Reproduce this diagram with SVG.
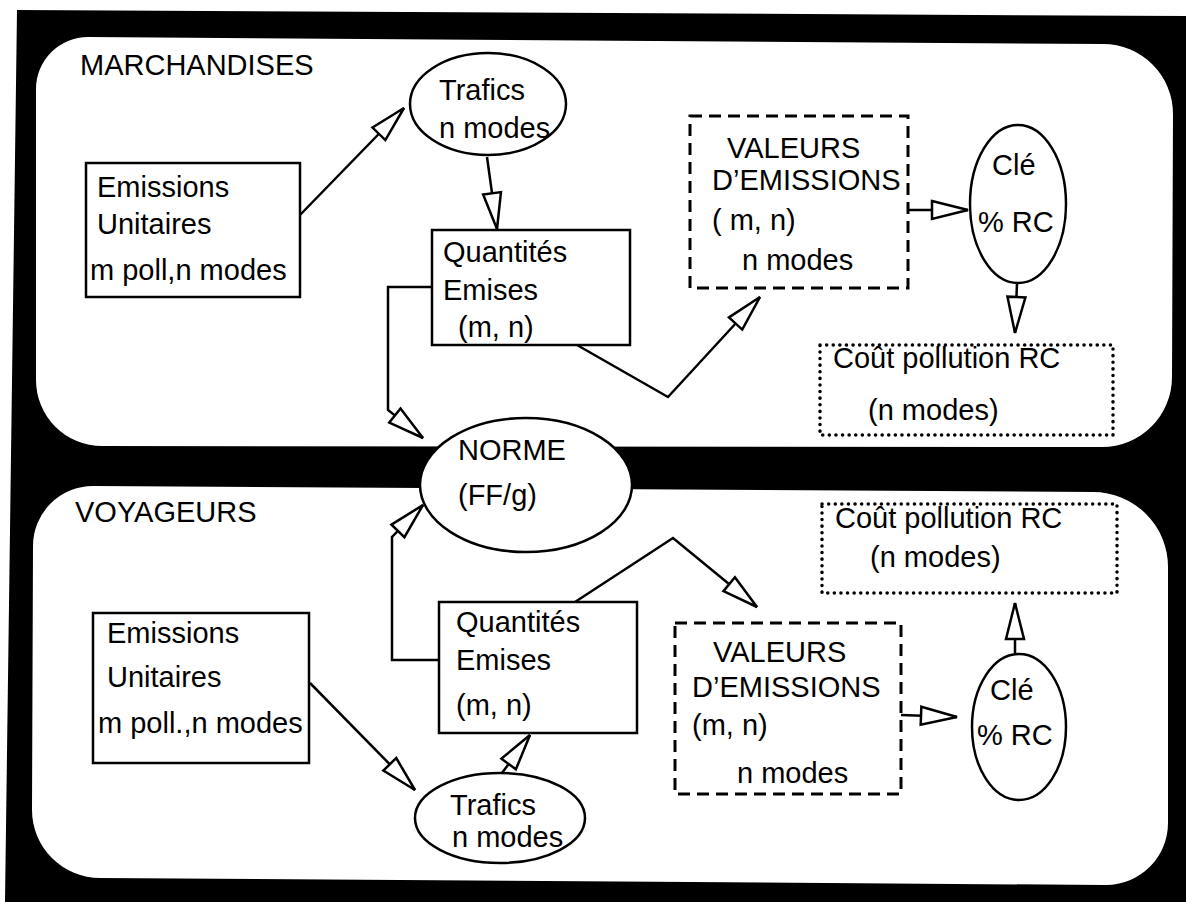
<svg xmlns="http://www.w3.org/2000/svg" width="1186" height="902" viewBox="0 0 1186 902">
<style>
text{font-family:"Liberation Sans",Arial,Helvetica,sans-serif;font-size:29px;fill:#000}
.t{font-size:29px}
.box{fill:#fff;stroke:#000;stroke-width:2.5}
.dash{fill:#fff;stroke:#000;stroke-width:3;stroke-dasharray:12 7}
.dot{fill:#fff;stroke:#000;stroke-width:3.5;stroke-dasharray:0.1 6.5;stroke-linecap:round}
.conn path{fill:none;stroke:#000;stroke-width:2.5;marker-end:url(#ah)}
.conn path.nm{marker-end:none}
</style>
<defs>
<marker id="ah" viewBox="0 0 40 22" refX="38" refY="11" markerWidth="40" markerHeight="22" markerUnits="userSpaceOnUse" orient="auto">
<path d="M2,2 L38,11 L2,20 Z" fill="#fff" stroke="#000" stroke-width="2.5"/>
</marker>
</defs>
<rect width="1186" height="902" fill="#fff"/>
<polygon points="17,10 1186,16 1186,902 5,902" fill="#000"/>
<g id="panel-marchandises">
<path d="M88,37 L1103,44 A70,70 0 0 1 1173,114 L1172,377 A70,70 0 0 1 1102,447 L102,446 A66,66 0 0 1 36,380 L36,89 A52,52 0 0 1 88,37 Z" fill="#fff"/>
<text x="80" y="75">MARCHANDISES</text>
</g>
<g id="panel-voyageurs">
<path d="M93,486 L1093,492 A75,75 0 0 1 1168,567 L1168,823 A62,62 0 0 1 1106,885 L100,878 A68,68 0 0 1 32,810 L33,546 A60,60 0 0 1 93,486 Z" fill="#fff"/>
<text x="75" y="522">VOYAGEURS</text>
</g>
<g class="conn" id="connectors">
<path d="M300,215 L404,108"/>
<path d="M487,157 L497,229"/>
<path d="M432,287 L388,287 L388,410 L423,438"/>
<path d="M577,345 L668,397 L760,297"/>
<path d="M908,210 L968,210"/>
<path d="M1017,283 L1015,333"/>
<path d="M310,683 L415,790"/>
<path d="M502,773 L530,735"/>
<path d="M439,660 L392,660 L392,537 L423,505"/>
<path d="M575,602 L673,538 L757,607"/>
<path d="M901,715 L957,717"/>
<path d="M1015,653 L1015,603"/>
</g>
<g id="m-emissions">
<rect class="box" x="86" y="163" width="214" height="134"/>
<text x="97" y="197">Emissions</text>
<text x="97" y="234">Unitaires</text>
<text x="90" y="280">m poll,n modes</text>
</g>
<g id="m-trafics">
<ellipse class="box" cx="488" cy="104" rx="78" ry="51"/>
<text x="439" y="100">Trafics</text>
<text x="439" y="138">n modes</text>
</g>
<g id="m-quantites">
<rect class="box" x="432" y="230" width="198" height="115"/>
<text x="443" y="262">Quantités</text>
<text x="443" y="300">Emises</text>
<text x="458" y="337">(m, n)</text>
</g>
<g id="m-valeurs">
<rect class="dash" x="690" y="116" width="218" height="172"/>
<text x="727" y="158">VALEURS</text>
<text x="712" y="190">D’EMISSIONS</text>
<text x="712" y="230">( m, n)</text>
<text x="742" y="270">n modes</text>
</g>
<g id="m-cle">
<ellipse class="box" cx="1018" cy="204" rx="48" ry="79"/>
<text x="992" y="175">Clé</text>
<text x="978" y="232">% RC</text>
</g>
<g id="m-cout">
<rect class="dot" x="820" y="345" width="293" height="90"/>
<text x="833" y="368">Coût pollution RC</text>
<text x="868" y="420">(n modes)</text>
</g>
<g id="norme">
<ellipse class="box" cx="526" cy="485" rx="106" ry="67"/>
<text x="458" y="460">NORME</text>
<text x="458" y="505">(FF/g)</text>
</g>
<g id="v-emissions">
<rect class="box" x="93" y="613" width="216" height="150"/>
<text x="107" y="643">Emissions</text>
<text x="107" y="687">Unitaires</text>
<text x="98" y="733">m poll.,n modes</text>
</g>
<g id="v-trafics">
<ellipse class="box" cx="500" cy="818" rx="85" ry="45"/>
<text x="450" y="815">Trafics</text>
<text x="452" y="847">n modes</text>
</g>
<g id="v-quantites">
<rect class="box" x="439" y="602" width="198" height="131"/>
<text x="456" y="632">Quantités</text>
<text x="456" y="670">Emises</text>
<text x="456" y="715">(m, n)</text>
</g>
<g id="v-valeurs">
<rect class="dash" x="675" y="623" width="226" height="171"/>
<text x="713" y="662">VALEURS</text>
<text x="692" y="697">D’EMISSIONS</text>
<text x="692" y="735">(m, n)</text>
<text x="737" y="783">n modes</text>
</g>
<g id="v-cle">
<ellipse class="box" cx="1019" cy="727" rx="47" ry="73"/>
<text x="990" y="700">Clé</text>
<text x="977" y="745">% RC</text>
</g>
<g id="v-cout">
<rect class="dot" x="822" y="504" width="295" height="89"/>
<text x="835" y="528">Coût pollution RC</text>
<text x="870" y="567">(n modes)</text>
</g>
</svg>
